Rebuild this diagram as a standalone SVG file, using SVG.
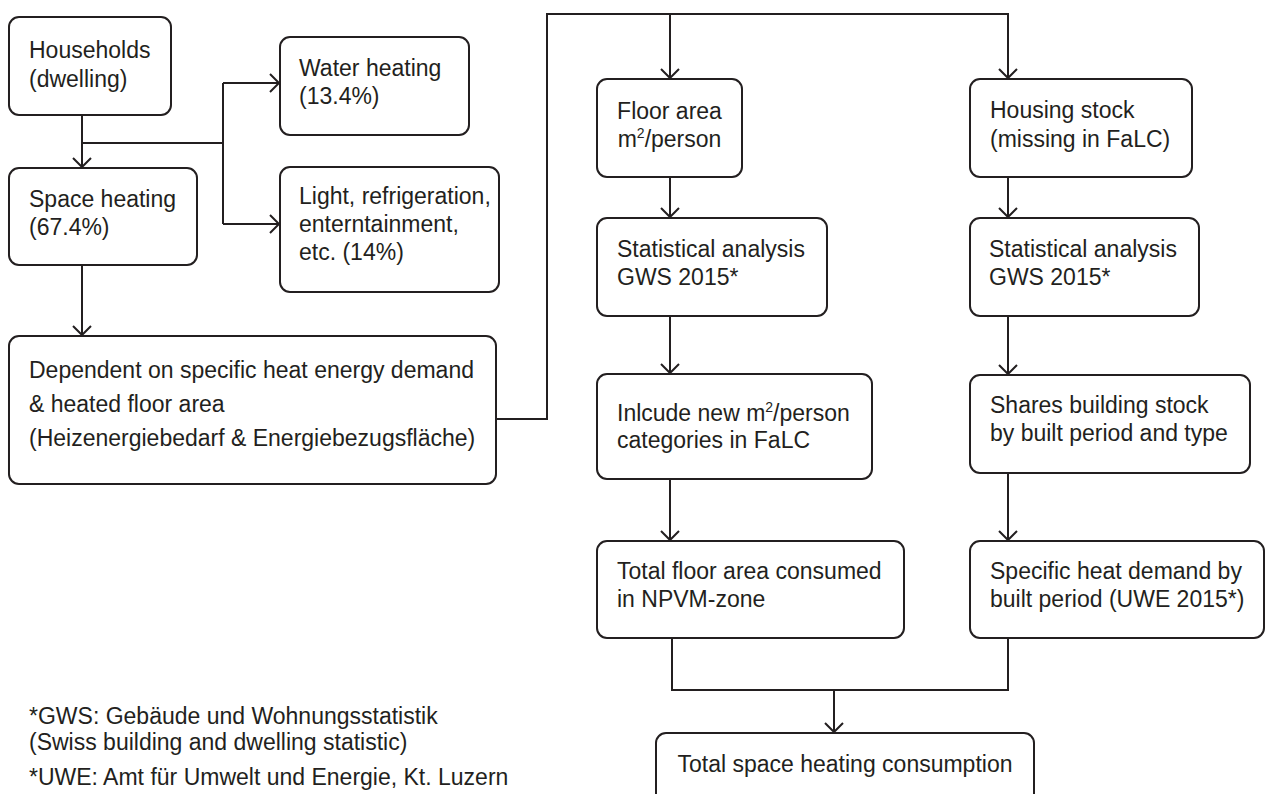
<svg xmlns="http://www.w3.org/2000/svg" width="1266" height="794" viewBox="0 0 1266 794">
<style>
.box{fill:#fff;stroke:#231f20;stroke-width:2}
.t{font-family:"Liberation Sans",Arial,Helvetica,sans-serif;font-size:23px;fill:#231f20}
.c{fill:none;stroke:#231f20;stroke-width:2}
.a{marker-end:url(#arr)}
</style>
<defs>
<marker id="arr" markerUnits="userSpaceOnUse" markerWidth="20" markerHeight="22" refX="10" refY="11" orient="auto" viewBox="0 0 20 22">
<path d="M1,2 L10,11 L1,20" fill="none" stroke="#231f20" stroke-width="2"/>
</marker>
</defs>
<rect width="1266" height="794" fill="#fff"/>
<g id="connectors">
<path class="c a" d="M82,115 V167"/>
<path class="c" d="M82,143 H223 M223,83 V224"/>
<path class="c a" d="M223,83 H279"/>
<path class="c a" d="M223,224 H279"/>
<path class="c a" d="M82,265 V335"/>
<path class="c a" d="M496,419 H547 V14 H1008 V78"/>
<path class="c a" d="M670,14 V78"/>
<path class="c a" d="M670,177 V217"/>
<path class="c a" d="M670,316 V373"/>
<path class="c a" d="M670,479 V540"/>
<path class="c a" d="M1008,177 V217"/>
<path class="c a" d="M1008,316 V374"/>
<path class="c a" d="M1008,473 V540"/>
<path class="c" d="M672,638 V690 H1008 V638"/>
<path class="c a" d="M834,690 V732"/>
</g>
<g id="households"><rect class="box" x="9" y="17" width="162" height="98" rx="10"/><text class="t" x="29" y="58">Households</text><text class="t" x="29" y="87">(dwelling)</text></g>
<g id="water"><rect class="box" x="280" y="37" width="189" height="98" rx="10"/><text class="t" x="299" y="76">Water heating</text><text class="t" x="299" y="104">(13.4%)</text></g>
<g id="space"><rect class="box" x="9" y="168" width="188" height="97" rx="10"/><text class="t" x="29" y="207">Space heating</text><text class="t" x="29" y="235">(67.4%)</text></g>
<g id="light"><rect class="box" x="280" y="167" width="219" height="125" rx="10"/><text class="t" x="299" y="204">Light, refrigeration,</text><text class="t" x="299" y="232">enterntainment,</text><text class="t" x="299" y="260">etc. (14%)</text></g>
<g id="dependent"><rect class="box" x="9" y="336" width="487" height="148" rx="10"/><text class="t" x="29" y="378">Dependent on specific heat energy demand</text><text class="t" x="29" y="412">&amp; heated floor area</text><text class="t" x="29" y="446">(Heizenergiebedarf &amp; Energiebezugsfläche)</text></g>
<g id="floorarea"><rect class="box" x="597" y="79" width="145" height="98" rx="10"/><text class="t" x="669.5" y="119" text-anchor="middle">Floor area</text><text class="t" x="669.5" y="147" text-anchor="middle">m<tspan font-size="14" dy="-9">2</tspan><tspan dy="9">/person</tspan></text></g>
<g id="stat1"><rect class="box" x="597" y="218" width="230" height="98" rx="10"/><text class="t" x="617" y="257">Statistical analysis</text><text class="t" x="617" y="285">GWS 2015*</text></g>
<g id="include"><rect class="box" x="597" y="374" width="275" height="105" rx="10"/><text class="t" x="617" y="421">Inlcude new m<tspan font-size="14" dy="-9">2</tspan><tspan dy="9">/person</tspan></text><text class="t" x="617" y="448">categories in FaLC</text></g>
<g id="totalfloor"><rect class="box" x="597" y="541" width="307" height="97" rx="10"/><text class="t" x="617" y="579">Total floor area consumed</text><text class="t" x="617" y="607">in NPVM-zone</text></g>
<g id="housing"><rect class="box" x="970" y="79" width="222" height="98" rx="10"/><text class="t" x="990" y="118">Housing stock</text><text class="t" x="990" y="147">(missing in FaLC)</text></g>
<g id="stat2"><rect class="box" x="970" y="218" width="229" height="98" rx="10"/><text class="t" x="989" y="257">Statistical analysis</text><text class="t" x="989" y="285">GWS 2015*</text></g>
<g id="shares"><rect class="box" x="970" y="375" width="280" height="98" rx="10"/><text class="t" x="990" y="413">Shares building stock</text><text class="t" x="990" y="441">by built period and type</text></g>
<g id="specific"><rect class="box" x="970" y="541" width="294" height="97" rx="10"/><text class="t" x="990" y="579">Specific heat demand by</text><text class="t" x="990" y="607">built period (UWE 2015*)</text></g>
<g id="total"><rect class="box" x="656" y="733" width="378" height="80" rx="10"/><text class="t" x="845" y="772" text-anchor="middle">Total space heating consumption</text></g>
<g id="notes"><text class="t" x="29" y="724">*GWS: Gebäude und Wohnungsstatistik</text><text class="t" x="29" y="750">(Swiss building and dwelling statistic)</text><text class="t" x="29" y="785">*UWE: Amt für Umwelt und Energie, Kt. Luzern</text></g>
</svg>
